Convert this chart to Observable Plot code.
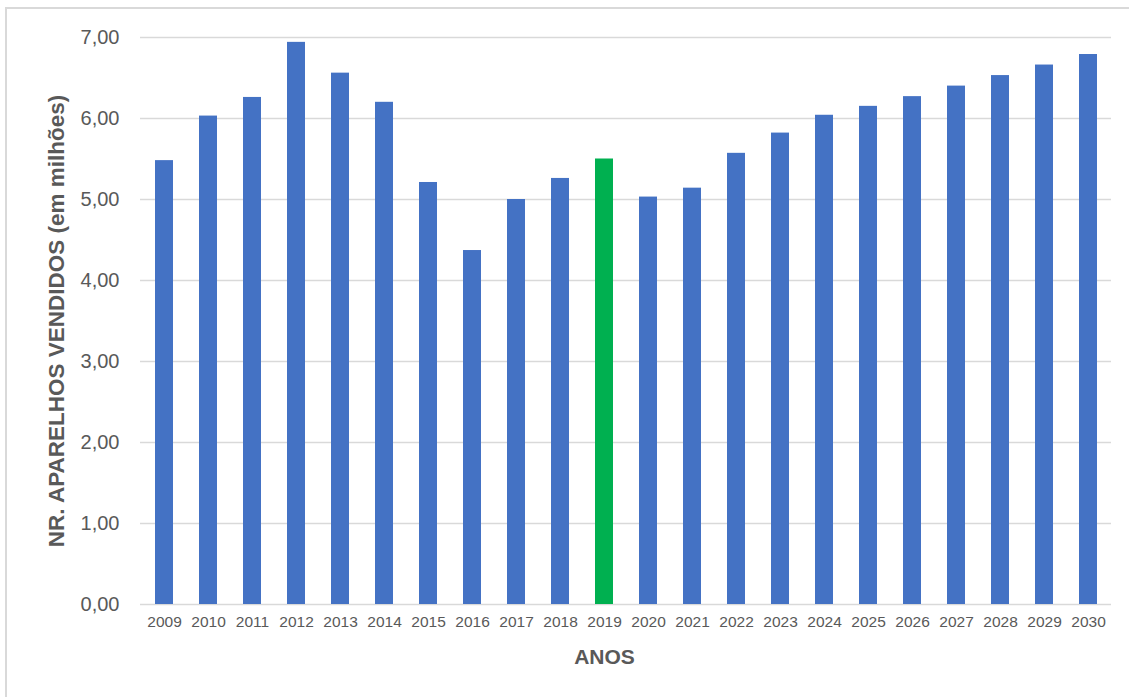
<!DOCTYPE html>
<html lang="pt">
<head>
<meta charset="utf-8">
<script src="https://cdn.jsdelivr.net/npm/d3@7"></script>
<script src="https://cdn.jsdelivr.net/npm/@observablehq/plot@0.6"></script>
<style>
  html, body { margin: 0; padding: 0; background: #ffffff; }
  #wrap { position: relative; width: 1129px; height: 697px; overflow: hidden; }
  #frame {
    position: absolute; left: 5px; top: 7px; right: -10px; bottom: -10px;
    border-top: 2px solid #d9d9d9; border-left: 2px solid #d9d9d9;
    pointer-events: none;
  }
  #chart { position: absolute; left: 0; top: 0; }
</style>
</head>
<body>
<div id="wrap">
  <div id="frame"></div>
  <div id="chart"></div>
</div>
<script>
// Aparelhos vendidos por ano (milhões); 2019 em destaque
const anos = ["2009","2010","2011","2012","2013","2014","2015","2016","2017","2018","2019",
              "2020","2021","2022","2023","2024","2025","2026","2027","2028","2029","2030"];
const vendas = [5.48, 6.03, 6.26, 6.94, 6.56, 6.20, 5.21, 4.37, 5.00, 5.26, 5.50,
                5.03, 5.14, 5.57, 5.82, 6.04, 6.15, 6.27, 6.40, 6.53, 6.66, 6.79];
const anoDestaque = "2019";
const yTicks = [0, 1, 2, 3, 4, 5, 6, 7];
const tituloY = "NR. APARELHOS VENDIDOS (em milhões)";
const tituloX = "ANOS";

const azul = "#4472c4";
const verde = "#00b050";
const cinzaGrade = "#d9d9d9";
const cinzaTexto = "#595959";

const data = anos.map((ano, i) => ({ano, valor: vendas[i]}));
const fmt = v => v.toFixed(2).replace(".", ",");

const chart = Plot.plot({
  width: 1129,
  height: 697,
  marginLeft: 140,
  marginRight: 18,
  marginTop: 37,
  marginBottom: 93,
  style: {fontFamily: "'Liberation Sans', Arial, sans-serif", background: "transparent"},
  x: {type: "band", domain: anos, paddingInner: 0.6, paddingOuter: 0.3},
  y: {domain: [0, 7]},
  marks: [
    Plot.ruleY(yTicks, {stroke: cinzaGrade, strokeWidth: 1.5}),
    Plot.barY(data, {
      x: "ano", y: "valor",
      fill: d => d.ano === anoDestaque ? verde : azul
    }),
    Plot.axisY(yTicks, {
      tickSize: 0, tickPadding: 21, tickFormat: fmt,
      fontSize: 20, fill: cinzaTexto, label: null
    }),
    Plot.axisX({
      tickSize: 0, tickPadding: 11,
      fontSize: 15.5, fill: cinzaTexto, label: null
    }),
    Plot.text([tituloY], {
      frameAnchor: "left", dx: -84, rotate: -90,
      fontSize: 22.5, fontWeight: "bold", fill: cinzaTexto,
      textAnchor: "middle", lineAnchor: "middle"
    }),
    Plot.text([tituloX], {
      frameAnchor: "bottom-left", dx: 464, dy: 53,
      fontSize: 21, fontWeight: "bold", fill: cinzaTexto,
      textAnchor: "middle", lineAnchor: "middle"
    })
  ]
});

document.getElementById("chart").appendChild(chart);
</script>
</body>
</html>
